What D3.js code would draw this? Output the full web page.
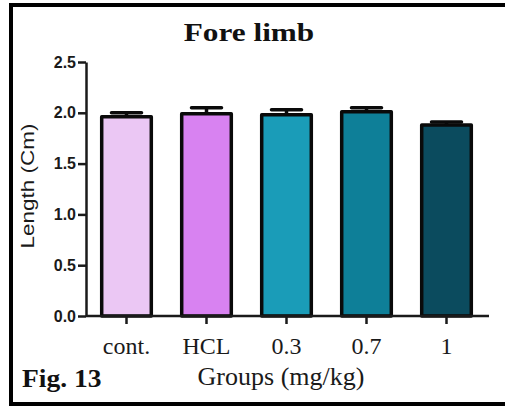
<!DOCTYPE html>
<html>
<head>
<meta charset="utf-8">
<script src="https://cdn.jsdelivr.net/npm/d3@7"></script>
<style>
  html, body { margin: 0; padding: 0; background: #fff; }
  svg { display: block; }
</style>
</head>
<body>
<svg id="chart" width="505" height="406"></svg>
<script>
// Fore limb length per treatment group (mean ± SEM)
const groups = ["cont.", "HCL", "0.3", "0.7", "1"];
const lengths = [1.96, 1.99, 1.98, 2.01, 1.88];
const errors = [0.04, 0.06, 0.05, 0.04, 0.03];
const barColors = ["#EBC7F4", "#D882F1", "#1A9CB8", "#0E7F98", "#0B4B5E"];
const yTicks = [0, 0.5, 1.0, 1.5, 2.0, 2.5];

const data = groups.map((g, i) => ({ group: g, value: lengths[i], err: errors[i], color: barColors[i] }));

const svg = d3.select("#chart");
const W = 505, H = 406;
svg.append("rect").attr("width", W).attr("height", H).attr("fill", "#fff");

const x = d3.scaleBand().domain(groups).range([86.5, 486.5]).paddingInner(0.38).paddingOuter(0.19);
const y = d3.scaleLinear().domain([0, 2.5]).range([316, 62]);

// Frame around the figure
svg.append("path")
  .attr("d", `M${W},5 H11 V404 H${W}`)
  .attr("fill", "none").attr("stroke", "#000").attr("stroke-width", 4);

// Title
svg.append("text")
  .attr("transform", "translate(249,41) scale(1.25,1)")
  .attr("text-anchor", "middle")
  .attr("font-family", "'Liberation Serif', 'Times New Roman', serif")
  .attr("font-weight", "bold").attr("font-size", 25)
  .attr("fill", "#111")
  .text("Fore limb");

// Bars
const bars = svg.append("g");
bars.selectAll("rect").data(data).join("rect")
  .attr("x", d => x(d.group))
  .attr("width", x.bandwidth())
  .attr("y", d => y(d.value))
  .attr("height", d => y(0) - y(d.value))
  .attr("fill", d => d.color)
  .attr("stroke", "#0a0a0a").attr("stroke-width", 3.5)
  .attr("stroke-linejoin", "round");

// Error bars (upper whisker only)
const eb = svg.append("g").attr("stroke", "#0a0a0a").attr("stroke-width", 3.5).attr("fill", "none");
eb.selectAll("line.stem").data(data).join("line").attr("class", "stem")
  .attr("x1", d => x(d.group) + x.bandwidth() / 2)
  .attr("x2", d => x(d.group) + x.bandwidth() / 2)
  .attr("y1", d => y(d.value)).attr("y2", d => y(d.value + d.err));
eb.selectAll("line.cap").data(data).join("line").attr("class", "cap")
  .attr("x1", d => x(d.group) + x.bandwidth() / 2 - 15)
  .attr("x2", d => x(d.group) + x.bandwidth() / 2 + 15)
  .attr("y1", d => y(d.value + d.err)).attr("y2", d => y(d.value + d.err))
  .attr("stroke-linecap", "round");

// Y axis
const yAxis = svg.append("g").attr("transform", "translate(86,0)")
  .call(d3.axisLeft(y).tickValues(yTicks).tickFormat(d3.format(".1f")).tickSize(8).tickSizeOuter(0).tickPadding(2));
yAxis.select(".domain").attr("stroke", "#1a1a1a").attr("stroke-width", 2.5);
yAxis.selectAll(".tick line").attr("stroke", "#1a1a1a").attr("stroke-width", 2.5);
yAxis.selectAll(".tick text")
  .attr("font-family", "'Liberation Sans', Arial, sans-serif")
  .attr("font-weight", "bold").attr("font-size", 16).attr("fill", "#1a1a1a");

// X axis
const xAxis = svg.append("g").attr("transform", `translate(0,${y(0)})`)
  .call(d3.axisBottom(x).tickSize(8).tickSizeOuter(0).tickFormat(""));
xAxis.select(".domain").attr("d", "M86,0H489").attr("stroke", "#1a1a1a").attr("stroke-width", 2.5);
xAxis.selectAll(".tick line").attr("stroke", "#1a1a1a").attr("stroke-width", 2.5);

// Category labels
svg.append("g").selectAll("text").data(groups).join("text")
  .attr("x", d => x(d) + x.bandwidth() / 2)
  .attr("y", 354)
  .attr("text-anchor", "middle")
  .attr("font-family", "'Liberation Serif', 'Times New Roman', serif")
  .attr("font-size", 24).attr("fill", "#1a1a1a")
  .text(d => d);

// Axis titles
svg.append("text")
  .attr("transform", "translate(34,186) rotate(-90) scale(1.25,1)")
  .attr("text-anchor", "middle")
  .attr("font-family", "'Liberation Sans', Arial, sans-serif")
  .attr("font-size", 18).attr("fill", "#1a1a1a")
  .text("Length (Cm)");

svg.append("text")
  .attr("x", 281).attr("y", 385)
  .attr("text-anchor", "middle")
  .attr("font-family", "'Liberation Serif', 'Times New Roman', serif")
  .attr("font-size", 26).attr("fill", "#1a1a1a")
  .text("Groups (mg/kg)");

svg.append("text")
  .attr("transform", "translate(22,387) scale(1.1,1)")
  .attr("font-family", "'Liberation Serif', 'Times New Roman', serif")
  .attr("font-weight", "bold").attr("font-size", 25).attr("fill", "#111")
  .text("Fig. 13");
</script>
</body>
</html>
